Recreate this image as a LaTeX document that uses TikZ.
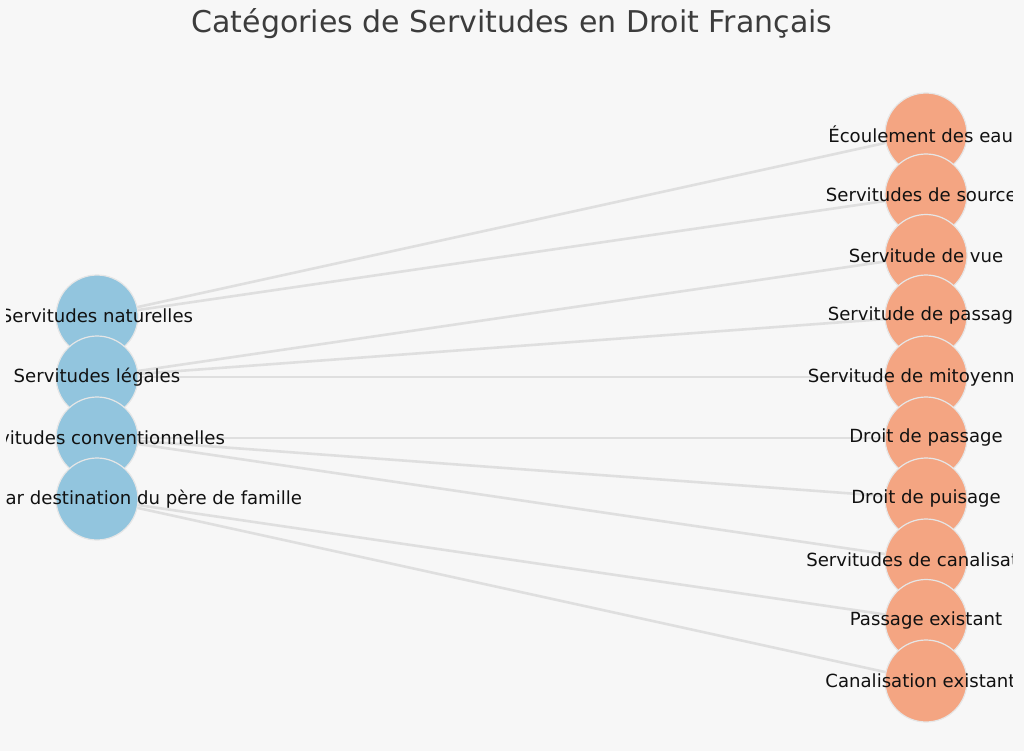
\documentclass[tikz,border=0pt]{standalone}
\usepackage{fontspec}
\setmainfont{DejaVu Sans}
\definecolor{bgc}{HTML}{F7F7F7}
\definecolor{edgec}{HTML}{DFDFDF}
\definecolor{bluec}{HTML}{92C5DE}
\definecolor{orangec}{HTML}{F4A582}
\definecolor{rimc}{HTML}{E6E6E6}
\definecolor{titlec}{HTML}{3C3C3C}
\definecolor{labc}{HTML}{111111}
\pgfdeclarelayer{bglayer}
\pgfdeclarelayer{edgelayer}
\pgfsetlayers{bglayer,edgelayer,main}
\tikzset{
  cat/.style={circle, minimum size=82pt, inner sep=0pt, fill=bluec, draw=rimc, line width=1.2pt},
  sub/.style={circle, minimum size=82pt, inner sep=0pt, fill=orangec, draw=rimc, line width=1.2pt},
  lab/.style={font=\fontsize{18.1}{20}\selectfont, text=labc, inner sep=0pt, anchor=center},
  link/.style={draw=edgec, line width=2.6pt},
  ttl/.style={font=\fontsize{30}{34}\selectfont, text=titlec, inner sep=0pt}
}
\begin{document}
\begin{tikzpicture}[x=1pt, y=-1pt]
\begin{pgfonlayer}{bglayer}
\fill[bgc] (0,0) rectangle (1024,751);
\end{pgfonlayer}
\useasboundingbox (0,0) rectangle (1024,751);

\node[ttl] (title) at (512,24) {Catégories de Servitudes en Droit Français};

% left category nodes
\node[cat] (c1) at (97,316) {};
\node[cat] (c2) at (97,377) {};
\node[cat] (c3) at (97,438) {};
\node[cat] (c4) at (97,499) {};
% right nodes
\node[sub] (s1) at (926,134) {};
\node[sub] (s2) at (926,195) {};
\node[sub] (s3) at (926,255.5) {};
\node[sub] (s4) at (926,316) {};
\node[sub] (s5) at (926,377) {};
\node[sub] (s6) at (926,438) {};
\node[sub] (s7) at (926,499) {};
\node[sub] (s8) at (926,560) {};
\node[sub] (s9) at (926,620.5) {};
\node[sub] (s10) at (926,681) {};

\begin{pgfonlayer}{edgelayer}
\draw[link] (c1.center) -- (s1.center);
\draw[link] (c1.center) -- (s2.center);
\draw[link] (c2.center) -- (s3.center);
\draw[link] (c2.center) -- (s4.center);
\draw[link] (c2.center) -- (s5.center);
\draw[link] (c3.center) -- (s6.center);
\draw[link] (c3.center) -- (s7.center);
\draw[link] (c3.center) -- (s8.center);
\draw[link] (c4.center) -- (s9.center);
\draw[link] (c4.center) -- (s10.center);
\end{pgfonlayer}

\begin{scope}
\clip (6,60) rectangle (1012.5,745);
\node[lab] (l1) at (c1.center) {Servitudes naturelles};
\node[lab] (l2) at (c2.center) {Servitudes légales};
\node[lab] (l3) at (c3.center) {Servitudes conventionnelles};
\node[lab] (l4) at (c4.center) {Servitudes par destination du père de famille};
\node[lab] (m1) at (s1.center) {Écoulement des eaux};
\node[lab] (m2) at (s2.center) {Servitudes de sources};
\node[lab] (m3) at (s3.center) {Servitude de vue};
\node[lab] (m4) at (s4.center) {Servitude de passage};
\node[lab] (m5) at (s5.center) {Servitude de mitoyenneté};
\node[lab] (m6) at (s6.center) {Droit de passage};
\node[lab] (m7) at (s7.center) {Droit de puisage};
\node[lab] (m8) at (s8.center) {Servitudes de canalisation};
\node[lab] (m9) at (s9.center) {Passage existant};
\node[lab] (m10) at (s10.center) {Canalisation existante};
\end{scope}
\end{tikzpicture}
\end{document}
